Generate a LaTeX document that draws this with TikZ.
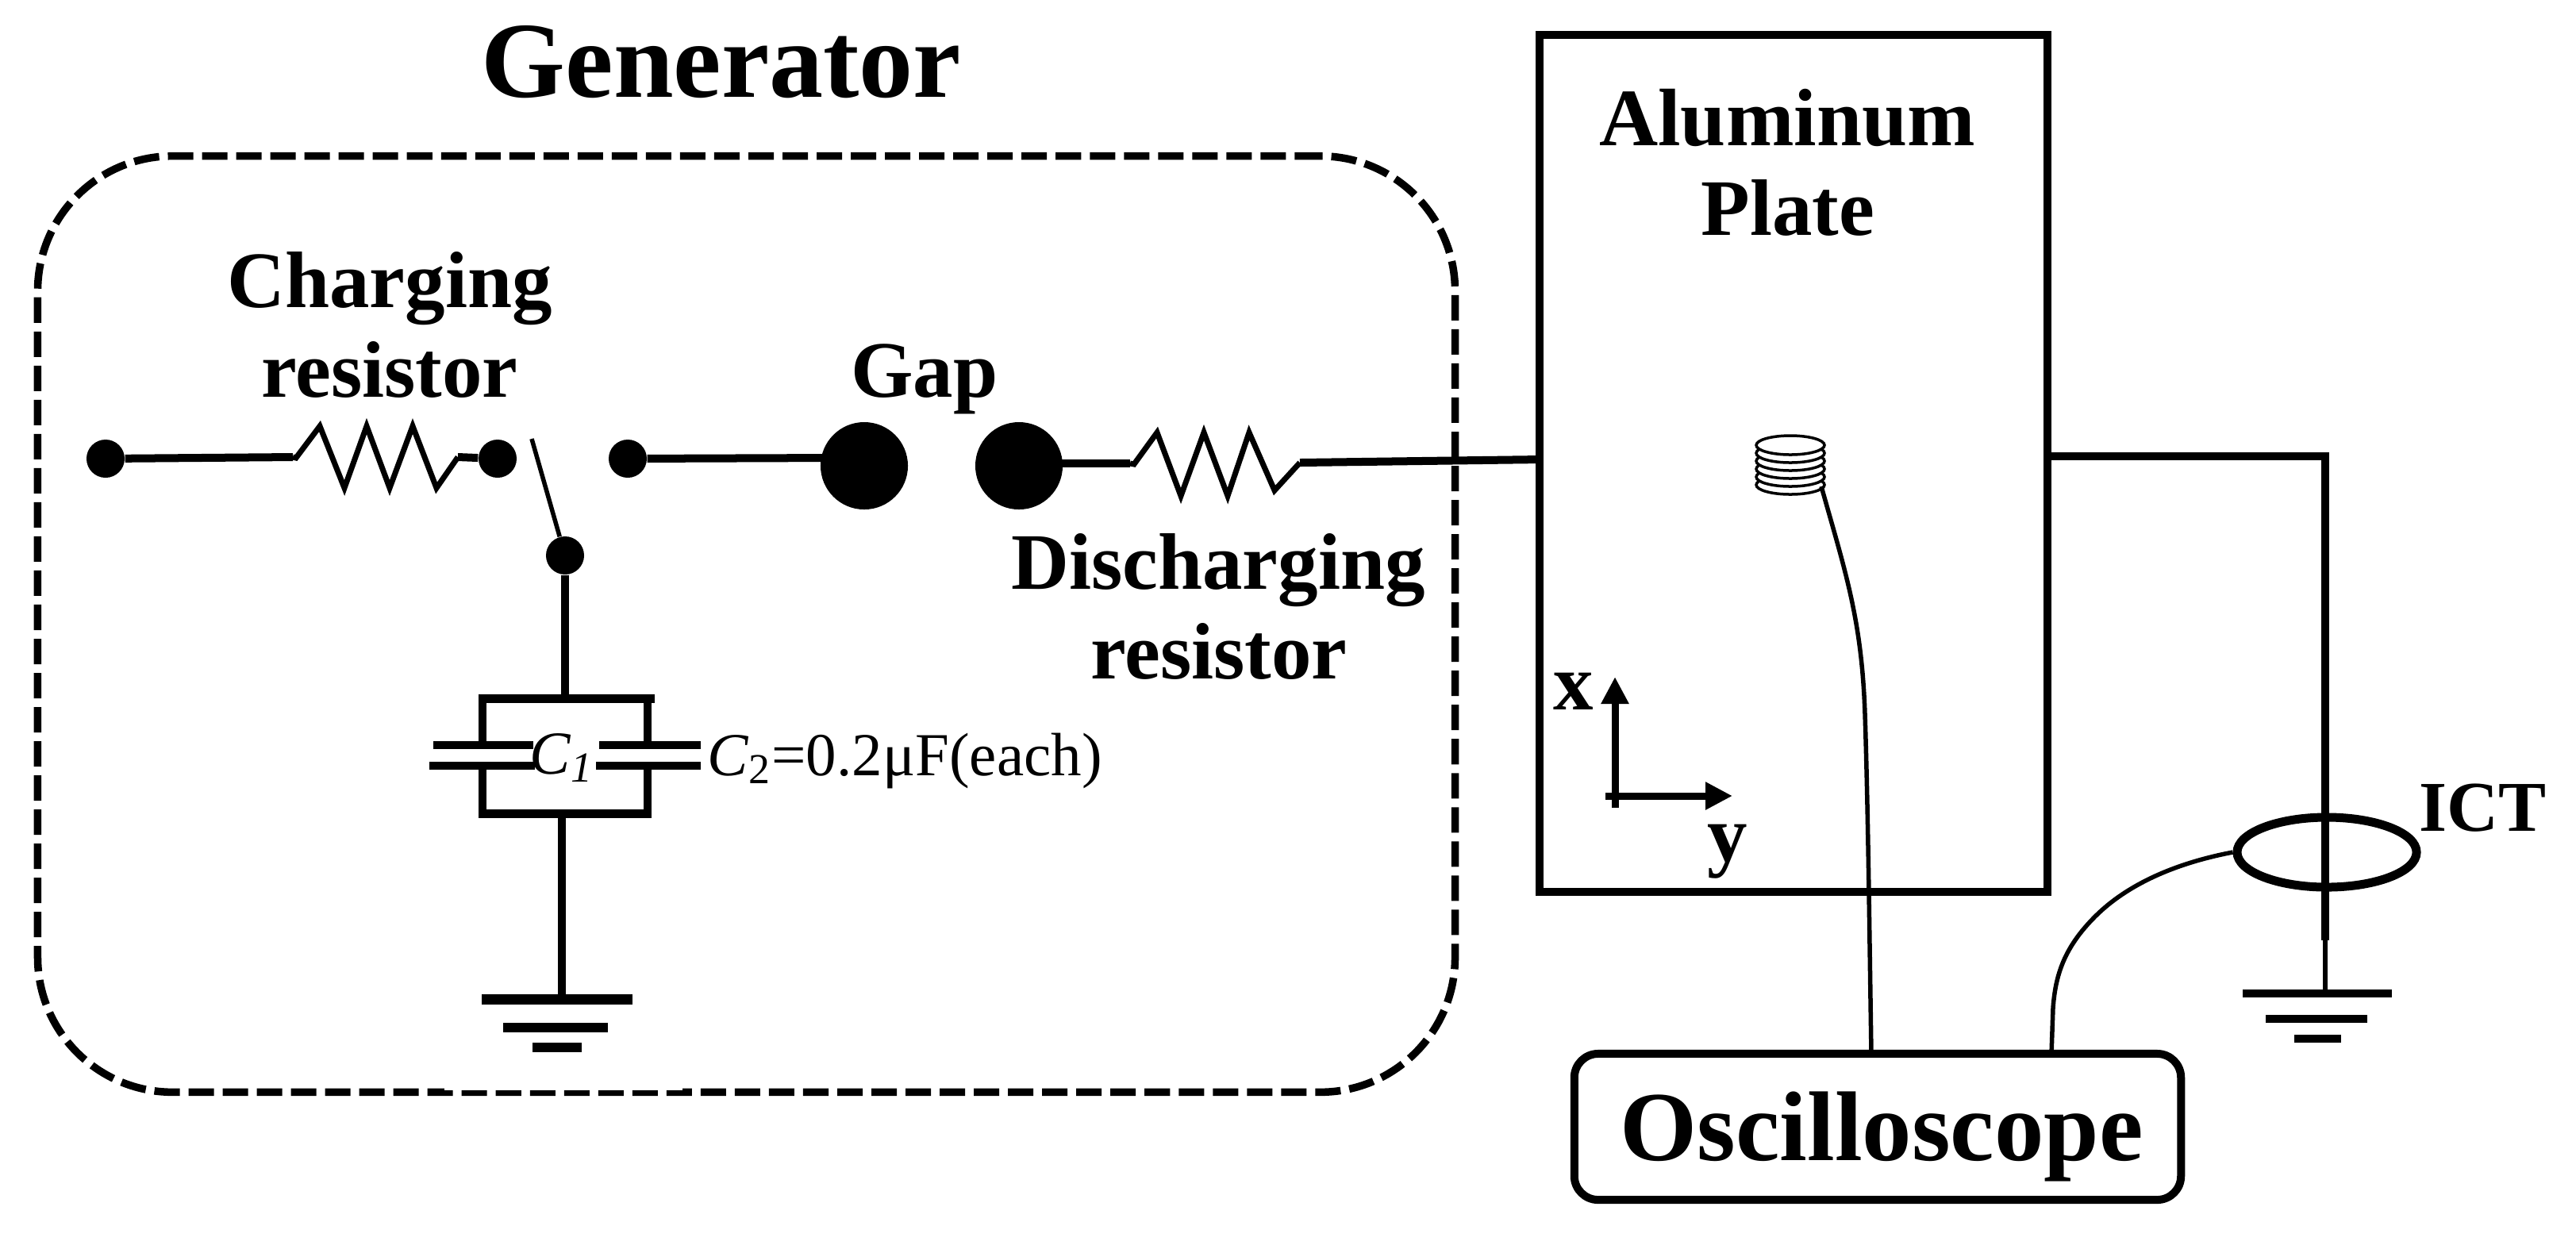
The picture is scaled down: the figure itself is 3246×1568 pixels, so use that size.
\documentclass[tikz,border=0pt]{standalone}
\usepackage{fontspec}
\setmainfont{Liberation Serif}
\usetikzlibrary{shapes.geometric,arrows.meta}

\begin{document}
\begin{tikzpicture}[x=0.01cm,y=-0.01cm]
\tikzstyle{wire}=[line width=1mm]
\tikzstyle{thinwire}=[line width=0.55mm]
\tikzstyle{zigzag}=[line width=0.7mm]
\tikzstyle{dot}=[circle, fill=black, inner sep=0pt, minimum size=0.48cm]
\tikzstyle{ball}=[circle, fill=black, inner sep=0pt, minimum size=1.1cm]
\tikzstyle{gndbar}=[rectangle, fill=black, inner sep=0pt, minimum height=0.11cm]
\tikzstyle{lbl}=[font=\fontsize{28.7}{30}\selectfont\bfseries, anchor=base, inner sep=0pt]
\tikzstyle{ringturn}=[draw=black, fill=white, line width=0.35mm]

\useasboundingbox (0,0) rectangle (3246,1568);

% generator
\draw (940.5,786.5) node[draw, rectangle, dash pattern=on 0.32cm off 0.11cm, line width=0.95mm, rounded corners=1.7cm, minimum width=17.85cm, minimum height=11.79cm] (gen) {};
\fill[white] (560,1364) rectangle (860,1374);
\draw (909,122) node[lbl, font=\fontsize{38.7}{40}\selectfont\bfseries] (gentext) {Generator};

\draw (491,387) node[lbl] (chg) {Charging};
\draw (491,500) node[lbl] (chgr) {resistor};
\draw (1165,500) node[lbl] (gap) {Gap};
\draw (1535,742) node[lbl] (dis) {Discharging};
\draw (1536,855) node[lbl] (disr) {resistor};

\draw (133,578) node[dot] (in) {};
\draw (627,578) node[dot] (swl) {};
\draw (791,578) node[dot] (swr) {};
\draw (712,700) node[dot] (piv) {};
\draw (1089,587) node[ball] (ball1) {};
\draw (1284,587) node[ball] (ball2) {};

\coordinate (r1a) at (369,576);
\coordinate (r1b) at (577,576);
\coordinate (blade) at (670,553);
\coordinate (b1in) at (1050,577);
\coordinate (b2out) at (1320,584);
\coordinate (r2a) at (1424,584);
\coordinate (r2b) at (1638,583);
\coordinate (pl) at (1942,579);

\draw[wire] (in) edge (r1a);
\draw[wire] (r1b) edge (swl);
\draw[zigzag] (r1a) -- (373,577) -- (403,537) -- (434,615) -- (462,537) -- (491,615) -- (520,537) -- (550,615) -- (r1b);
\draw[thinwire] (piv) edge (blade);
\draw[wire] (swr) edge (b1in);
\draw[wire] (b2out) edge (r2a);
\draw[zigzag] (r2a) -- (1429,585) -- (1458,545) -- (1488,625) -- (1517,545) -- (1547,625) -- (1574,545) -- (1606,618) -- (r2b);
\draw[wire] (r2b) edge (pl);

% capacitors
\coordinate (ctop) at (712,880);
\coordinate (cbot) at (708,1025);
\draw[wire] (piv) edge (ctop);
\draw[line width=1.1mm] (603,880) -- (825,880);
\draw[line width=1.1mm] (603,1025) -- (821,1025);
\draw[wire] (608,880) -- (608,939);
\draw[wire] (608,965) -- (608,1025);
\draw[wire] (816,880) -- (816,939);
\draw[wire] (816,965) -- (816,1025);
\draw[wire] (546,939) -- (672,939);
\draw[wire] (541,965) -- (674,965);
\draw[wire] (755,939) -- (883,939);
\draw[wire] (751,965) -- (883,965);
\draw (708,955) node[font=\fontsize{21.9}{23}\selectfont\itshape, inner sep=0pt] (c1) {C\textsubscript{1}};
\draw (891,977) node[font=\fontsize{21.9}{23}\selectfont, anchor=base west, inner sep=0pt] (c2) {\textit{C}\textsubscript{2}=0.2μF(each)};

% left ground
\draw (702,1259) node[gndbar, minimum width=1.9cm, minimum height=0.13cm] (g1a) {};
\draw (700,1295) node[gndbar, minimum width=1.31cm, minimum height=0.12cm] (g1b) {};
\draw (702,1320) node[gndbar, minimum width=0.61cm, minimum height=0.12cm] (g1c) {};
\coordinate (g1top) at (708,1255);
\draw[wire] (cbot) edge (g1top);

% plate
\draw (2260,584) node[draw, rectangle, line width=1mm, minimum width=6.4cm, minimum height=10.8cm] (plate) {};
\draw (2252,183) node[lbl, font=\fontsize{29.2}{30}\selectfont\bfseries] (alu) {Aluminum};
\draw (2253,296) node[lbl] (plt) {Plate};

\foreach \y in {611,601,591,581,571,561}
  \draw[ringturn] (2256,\y) ellipse (43 and 12);
\coordinate (coilout) at (2295,613);

\coordinate (orig) at (2035,1003);
\draw[line width=0.9mm, -{Triangle[length=0.34cm,width=0.33cm]}] (2035,1018) -- (2035,853);
\draw[line width=0.9mm, -{Triangle[length=0.34cm,width=0.33cm]}] (2023,1003) -- (2183,1003);
\draw (1983,894) node[lbl] (xlab) {x};
\draw (2177,1085) node[lbl] (ylab) {y};

% scope and ict
\draw (2366,1420) node[draw, rectangle, rounded corners=0.3cm, line width=1mm, minimum width=7.64cm, minimum height=1.84cm, text height=0.84cm, text depth=0cm, inner sep=0pt, font=\fontsize{35.5}{37}\selectfont\bfseries] (scope) {\hspace{0.1cm}Oscilloscope};
\draw (2932,1074) node[draw, ellipse, line width=1.1mm, inner sep=0pt, minimum width=2.26cm, minimum height=0.88cm] (ict) {};
\draw (3128,1047) node[lbl, font=\fontsize{25.6}{27}\selectfont\bfseries] (ictlab) {ICT};

\coordinate (plr) at (2580,575);
\coordinate (crn) at (2930,575);
\coordinate (gw) at (2930,1185);
\coordinate (g2top) at (2930,1250);
\draw[wire] (plr) -- (crn) -- (gw);
\draw[thinwire] (gw) -- (g2top);
\draw (2920,1252) node[gndbar, minimum width=1.87cm, minimum height=0.1cm] (g2a) {};
\draw (2919,1284) node[gndbar, minimum width=1.28cm, minimum height=0.1cm] (g2b) {};
\draw (2920,1309) node[gndbar, minimum width=0.59cm, minimum height=0.1cm] (g2c) {};

\coordinate (sc1) at (2358,1328);
\coordinate (sc2) at (2585,1328);
\draw[thinwire] (coilout) .. controls (2325,720) and (2346,780) .. (2350,900) .. controls (2354,1020) and (2356,1200) .. (sc1);
\draw[thinwire] (ict.west) .. controls (2740,1088) and (2680,1115) .. (2640,1155) .. controls (2600,1195) and (2590,1230) .. (2587,1270) -- (sc2);
\end{tikzpicture}
\end{document}
